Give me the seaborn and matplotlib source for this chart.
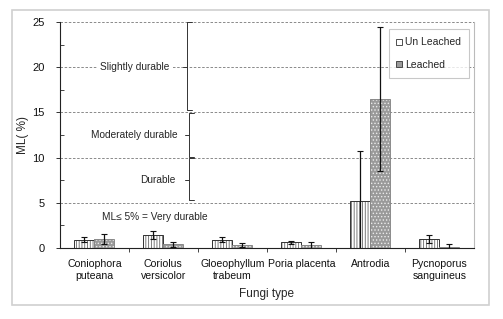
import matplotlib
matplotlib.use("Agg")
import matplotlib.pyplot as plt
import seaborn as sns
import pandas as pd
import numpy as np
from matplotlib.patches import Rectangle, Patch

fungi = ["Coniophora\nputeana", "Coriolus\nversicolor", "Gloeophyllum\ntrabeum",
         "Poria placenta", "Antrodia", "Pycnoporus\nsanguineus"]
treatments = ["Un Leached", "Leached"]
unleached = [0.9, 1.4, 0.9, 0.63, 5.2, 0.98]
unleached_err = [0.25, 0.45, 0.3, 0.15, 5.5, 0.42]
leached = [0.98, 0.4, 0.3, 0.3, 16.5, 0.15]
leached_err = [0.6, 0.25, 0.25, 0.4, 8.0, 0.25]
yticks = [0, 5, 10, 15, 20, 25]

sns.set_theme(style="white")
plt.rcParams['font.family'] = ['Liberation Sans', 'DejaVu Sans']
plt.rcParams['hatch.linewidth'] = 0.6

df = pd.DataFrame({
    "fungi": fungi * 2,
    "treatment": [treatments[0]] * len(fungi) + [treatments[1]] * len(fungi),
    "ml": unleached + leached,
})
errs = unleached_err + leached_err

fig = plt.figure(figsize=(5.03, 3.19), dpi=100)
ax = fig.add_axes([0.119, 0.223, 0.823, 0.708])

sns.barplot(data=df, x="fungi", y="ml", hue="treatment", hue_order=treatments,
            order=fungi, width=0.58, errorbar=None, ax=ax, legend=False,
            saturation=1)

fills = {treatments[0]: ("white", "#666666", "||||||"),
         treatments[1]: ("#9a9a9a", "#ececec", ".....")}
outline = {treatments[0]: "#333333", treatments[1]: "#8a8a8a"}
bars = [p for p in ax.patches]
n = len(fungi)
for i, p in enumerate(bars):
    t = treatments[0] if i < n else treatments[1]
    fc, hc, h = fills[t]
    p.set_facecolor(fc)
    p.set_edgecolor(hc)
    p.set_hatch(h)
    p.set_linewidth(0)
    r = Rectangle((p.get_x(), p.get_y()), p.get_width(), p.get_height(),
                  fill=False, edgecolor=outline[t],
                  linewidth=0.7, zorder=p.get_zorder() + 0.1)
    ax.add_patch(r)
    ax.errorbar(p.get_x() + p.get_width() / 2, p.get_height(), yerr=errs[i],
                fmt="none", ecolor="#111111", elinewidth=0.9, capsize=2,
                capthick=0.8, zorder=4)

ax.set_ylim(0, 25)
ax.set_xlim(-0.5, n - 0.5)
ax.set_yticks(yticks)
ax.set_yticks(np.arange(2.5, 25, 5), minor=True)
ax.yaxis.grid(True, which="major", linestyle=(0, (3, 2)), color="#777777", linewidth=0.6)
ax.set_axisbelow(True)
ax.tick_params(axis="y", which="major", direction="out", length=3, width=0.6,
               labelsize=8, pad=8, colors="#111111", left=True)
ax.tick_params(axis="y", which="minor", direction="in", length=3, width=0.6, left=True)
ax.set_xticks(range(n))
ax.set_xticks(np.arange(0.5, n - 0.5, 1), minor=True)
ax.tick_params(axis="x", which="major", length=0, labelsize=7.6, pad=8, colors="#111111")
ax.tick_params(axis="x", which="minor", direction="out", length=3, width=0.6, bottom=True)
ax.set_xlabel("Fungi type", fontsize=8.5, labelpad=5)
ax.set_ylabel("ML( %)", fontsize=8.5, labelpad=2)

for s in ["left", "bottom"]:
    ax.spines[s].set_color("#222222")
    ax.spines[s].set_linewidth(0.8)
ax.spines["top"].set_visible(False)
ax.spines["right"].set_color("#bbbbbb")
ax.spines["right"].set_linewidth(0.8)

# durability brackets
bk = "#333333"
lw = 0.7
xb1 = 1.34
ax.plot([xb1 + 0.07, xb1, xb1, xb1 + 0.07], [25, 25, 15.3, 15.3], color=bk, lw=lw)
ax.plot([xb1, xb1 - 0.05], [20, 20], color=bk, lw=lw)
xb2 = 1.37
ax.plot([xb2 + 0.07, xb2, xb2, xb2 + 0.07], [14.9, 14.9, 10.1, 10.1], color=bk, lw=lw)
ax.plot([xb2, xb2 - 0.05], [12.5, 12.5], color=bk, lw=lw)
ax.plot([xb2 + 0.07, xb2, xb2, xb2 + 0.07], [9.9, 9.9, 5.3, 5.3], color=bk, lw=lw)
ax.plot([xb2, xb2 - 0.05], [7.5, 7.5], color=bk, lw=lw)

tb = dict(facecolor="white", edgecolor="none", pad=2)
ax.text(0.59, 20, "Slightly durable", ha="center", va="center", fontsize=7.3, bbox=tb)
ax.text(1.2, 12.5, "Moderately durable", ha="right", va="center", fontsize=7.3, bbox=tb)
ax.text(1.17, 7.5, "Durable", ha="right", va="center", fontsize=7.3, bbox=tb)
ax.text(0.88, 3.4, "ML\u2264 5% = Very durable", ha="center", va="center", fontsize=7.3)

handles = [Patch(facecolor=fills[t][0], edgecolor="#333333", linewidth=0.6)
           for t in treatments]
leg = ax.legend(handles, treatments, loc="upper right", bbox_to_anchor=(1.0, 0.99),
                fontsize=7.5, frameon=True, handlelength=0.5, handleheight=0.5,
                handletextpad=0.3, labelspacing=1.2, borderpad=0.75, fancybox=False,
                shadow=False, edgecolor="#bbbbbb")
leg.get_frame().set_linewidth(0.8)

fig.add_artist(Rectangle((0.024, 0.044), 0.948, 0.925, transform=fig.transFigure,
                         fill=False, edgecolor="#d0d0d0", linewidth=1.2))

fig.savefig("out.png", dpi=100)
